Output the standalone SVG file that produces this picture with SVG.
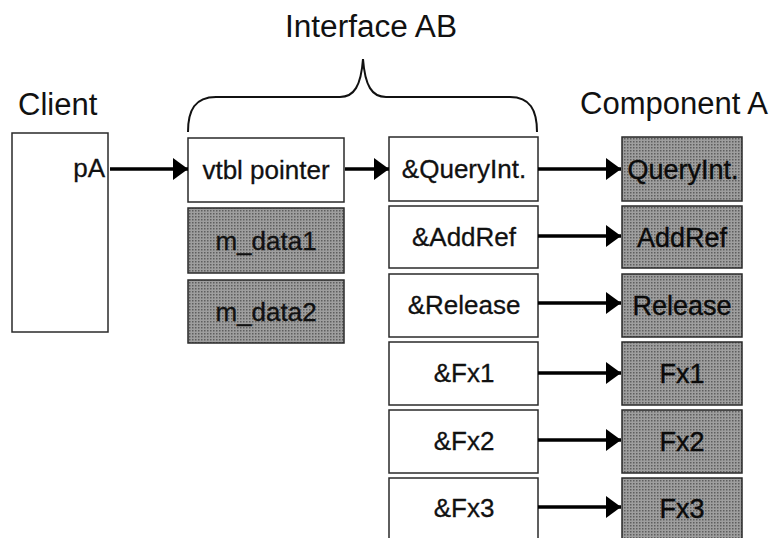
<svg xmlns="http://www.w3.org/2000/svg" width="774" height="538" viewBox="0 0 774 538">
  <style>
    .box { fill: #ffffff; stroke: #2a2a2a; stroke-width: 1.5; }
    .shade { fill: url(#halftone); stroke: #2a2a2a; stroke-width: 1.5; }
    .head { font-family: "Liberation Sans", Arial, sans-serif; font-size: 31px; fill: #111; }
    .lbl { font-family: "Liberation Sans", Arial, sans-serif; font-size: 26px; fill: #111; stroke: #111; stroke-width: 0.3; text-anchor: middle; }
    .lbl2 { font-family: "Liberation Sans", Arial, sans-serif; font-size: 27px; fill: #0a0a0a; stroke: #0a0a0a; stroke-width: 0.4; text-anchor: middle; }
    .arrow { stroke: #000; stroke-width: 3.6; fill: none; marker-end: url(#ah); }
    .brace { stroke: #111; stroke-width: 2; fill: none; }
  </style>
  <defs>
    <pattern id="halftone" width="3" height="3" patternUnits="userSpaceOnUse">
      <rect width="3" height="3" fill="#9e9e9e"/>
      <rect width="1.5" height="1.5" fill="#5e5e5e"/>
    </pattern>
    <marker id="ah" markerUnits="userSpaceOnUse" markerWidth="16" markerHeight="22" refX="15" refY="11" orient="auto">
      <path d="M0,0 L15,11 L0,22 Z" fill="#000"/>
    </marker>
  </defs>

  <!-- headings -->
  <text class="head" x="285" y="37" textLength="172" lengthAdjust="spacingAndGlyphs">Interface AB</text>
  <text class="head" x="18" y="115">Client</text>
  <text class="head" x="580" y="114" textLength="188" lengthAdjust="spacingAndGlyphs">Component A</text>

  <!-- brace over the interface -->
  <path class="brace" d="M188,132 C188,110 195,97 216,97 L340,97 C354,97 361,86 363,59 C365,86 372,97 386,97 L510,97 C530,97 537,110 537,132"/>

  <!-- client -->
  <g id="client">
    <rect class="box" x="12" y="133" width="96" height="199"/>
    <text class="lbl" x="105" y="177" style="text-anchor:end">pA</text>
  </g>

  <!-- interface object -->
  <g id="vtbl-pointer">
    <rect class="box" x="188" y="138" width="156" height="64"/>
    <text class="lbl" x="266" y="179">vtbl pointer</text>
  </g>
  <g id="m-data1">
    <rect class="shade" x="188" y="208" width="156" height="65"/>
    <text class="lbl" x="266" y="250">m_data1</text>
  </g>
  <g id="m-data2">
    <rect class="shade" x="188" y="280" width="156" height="63"/>
    <text class="lbl" x="266" y="321">m_data2</text>
  </g>

  <!-- vtable -->
  <g id="v-queryint">
    <rect class="box" x="389" y="137" width="149" height="64"/>
    <text class="lbl" x="464" y="178">&amp;QueryInt.</text>
  </g>
  <g id="v-addref">
    <rect class="box" x="389" y="206" width="149" height="62"/>
    <text class="lbl" x="464" y="246">&amp;AddRef</text>
  </g>
  <g id="v-release">
    <rect class="box" x="389" y="274" width="149" height="63"/>
    <text class="lbl" x="464" y="314">&amp;Release</text>
  </g>
  <g id="v-fx1">
    <rect class="box" x="389" y="342" width="149" height="63"/>
    <text class="lbl" x="464" y="382">&amp;Fx1</text>
  </g>
  <g id="v-fx2">
    <rect class="box" x="389" y="410" width="149" height="63"/>
    <text class="lbl" x="464" y="450">&amp;Fx2</text>
  </g>
  <g id="v-fx3">
    <rect class="box" x="389" y="478" width="149" height="64"/>
    <text class="lbl" x="464" y="517">&amp;Fx3</text>
  </g>

  <!-- component functions -->
  <g id="c-queryint">
    <rect class="shade" x="622" y="137" width="120" height="64"/>
    <text class="lbl2" x="683" y="179">QueryInt.</text>
  </g>
  <g id="c-addref">
    <rect class="shade" x="622" y="206" width="120" height="62"/>
    <text class="lbl2" x="682" y="247">AddRef</text>
  </g>
  <g id="c-release">
    <rect class="shade" x="622" y="274" width="120" height="63"/>
    <text class="lbl2" x="682" y="315">Release</text>
  </g>
  <g id="c-fx1">
    <rect class="shade" x="622" y="342" width="120" height="63"/>
    <text class="lbl2" x="682" y="383">Fx1</text>
  </g>
  <g id="c-fx2">
    <rect class="shade" x="622" y="410" width="120" height="63"/>
    <text class="lbl2" x="682" y="451">Fx2</text>
  </g>
  <g id="c-fx3">
    <rect class="shade" x="622" y="478" width="120" height="64"/>
    <text class="lbl2" x="682" y="518">Fx3</text>
  </g>

  <!-- connectors -->
  <g id="connectors">
    <line class="arrow" x1="110" y1="169" x2="188" y2="169"/>
    <line class="arrow" x1="345" y1="169" x2="389" y2="169"/>
    <line class="arrow" x1="538" y1="169" x2="621" y2="169"/>
    <line class="arrow" x1="538" y1="236" x2="621" y2="236"/>
    <line class="arrow" x1="538" y1="303" x2="621" y2="303"/>
    <line class="arrow" x1="538" y1="373" x2="621" y2="373"/>
    <line class="arrow" x1="538" y1="440" x2="621" y2="440"/>
    <line class="arrow" x1="538" y1="507" x2="621" y2="507"/>
  </g>
</svg>
